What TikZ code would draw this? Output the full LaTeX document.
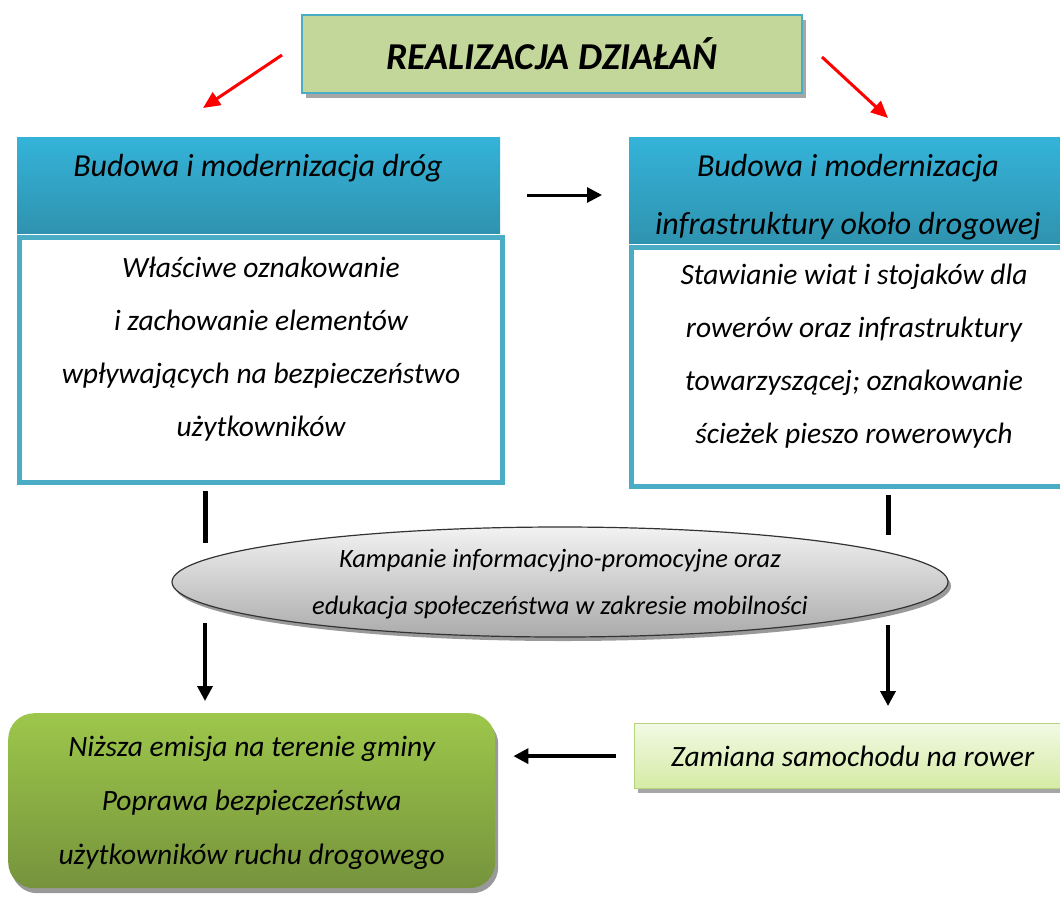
\documentclass[tikz,border=0pt]{standalone}
\usepackage{fontspec}
\setmainfont{Carlito}
\usepackage{tikz}
\usetikzlibrary{shapes.geometric, arrows.meta, positioning, shadows}
\definecolor{frameblue}{HTML}{4BACC6}
\definecolor{titlegreen}{HTML}{C4D79B}
\definecolor{headtop}{HTML}{34B3D9}
\definecolor{headbot}{HTML}{2F93AF}
\definecolor{greentop}{HTML}{9DC74B}
\definecolor{greenbot}{HTML}{76933C}
\definecolor{swaptop}{HTML}{F2F9E4}
\definecolor{swapbot}{HTML}{D5EBA5}
\definecolor{swapframe}{HTML}{B5D47E}
\newcommand{\bodyfont}{\fontsize{29.5}{53}\selectfont\itshape}
\tikzstyle{titlebox} = [rectangle, draw=frameblue, line width=1.5pt, fill=titlegreen,
                        minimum width=500pt, minimum height=78pt,
                        font=\fontsize{38}{42}\selectfont\bfseries\itshape,
                        drop shadow={shadow xshift=4pt, shadow yshift=-5pt, fill=black!35, opacity=1}]
\tikzstyle{headbox} = [rectangle, top color=headtop, bottom color=headbot, anchor=north west]
\tikzstyle{headtext} = [font=\fontsize{32}{58}\selectfont\itshape, align=center]
\tikzstyle{bodybox} = [rectangle, draw=frameblue, line width=5pt, fill=white, anchor=north west,
                       align=center, font=\bodyfont, text depth=26pt]
\tikzstyle{campaign} = [ellipse, draw=black!80, line width=1.2pt, top color=black!5, bottom color=black!33,
                        inner sep=0pt, minimum width=776pt, minimum height=110pt, align=center,
                        font=\fontsize{26.5}{47}\selectfont\itshape, text depth=0pt,
                        drop shadow={shadow xshift=3pt, shadow yshift=-4pt, fill=black!40, opacity=1}]
\tikzstyle{resultbox} = [rectangle, rounded corners=26pt, top color=greentop, bottom color=greenbot,
                         anchor=north west, align=center, font=\fontsize{29.5}{54}\selectfont\itshape,
                         text depth=0pt,
                         drop shadow={shadow xshift=3pt, shadow yshift=-5pt, fill=black!40, opacity=1}]
\tikzstyle{swapbox} = [rectangle, draw=swapframe, line width=1.2pt, top color=swaptop, bottom color=swapbot,
                       anchor=north west, font=\bodyfont,
                       drop shadow={shadow xshift=3pt, shadow yshift=-4pt, fill=black!35, opacity=1}]
\tikzstyle{arrow} = [line width=3.5pt, -{Triangle[length=15pt, width=15pt]}]
\tikzstyle{redarrow} = [red, line width=3pt, -{Triangle[length=17pt, width=15pt]}]
\tikzstyle{bar} = [line width=5pt]

\begin{document}
\begin{tikzpicture}[x=1pt, y=-1pt]
    \clip (0,0) rectangle (1060,898);

    % Top
    \node[titlebox] (title) at (552,54) {REALIZACJA DZIAŁAŃ};

    % Left column
    \node[headbox, minimum width=483pt, minimum height=96pt] (head1) at (17,137) {};
    \node[headtext] (head1txt) at (258,168) {Budowa i modernizacja dróg};
    \node[bodybox, minimum width=483pt, minimum height=245pt] (body1) at (17,235)
        {Właściwe oznakowanie\\i zachowanie elementów\\wpływających na bezpieczeństwo\\użytkowników};

    % Right column
    \node[headbox, minimum width=440pt, minimum height=106pt] (head2) at (629,137) {};
    \node[headtext] (head2txt) at (848,197) {Budowa i modernizacja\\infrastruktury około drogowej};
    \node[bodybox, minimum width=445pt, minimum height=239pt] (body2) at (629,245)
        {Stawianie wiat i stojaków dla\\rowerów oraz infrastruktury\\towarzyszącej; oznakowanie\\ścieżek pieszo rowerowych};

    % Middle
    \node[campaign] (campaign) at (560,582)
        {Kampanie informacyjno-promocyjne oraz\\edukacja społeczeństwa w zakresie mobilności};

    % Bottom
    \node[resultbox, minimum width=487pt, minimum height=175pt] (result) at (8,713)
        {Niższa emisja na terenie gminy\\Poprawa bezpieczeństwa\\użytkowników ruchu drogowego};
    \node[swapbox, minimum width=436pt, minimum height=65pt] (swap) at (634,723) {Zamiana samochodu na rower};

    % Red arrows
    \coordinate (r1) at (282,55);
    \coordinate (r2) at (203,108);
    \coordinate (r3) at (822,57);
    \coordinate (r4) at (888,118);
    \draw[redarrow] (r1) -- (r2);
    \draw[redarrow] (r3) -- (r4);

    % Arrow between headers
    \coordinate (m1) at (527,195);
    \coordinate (m2) at (602,195);
    \draw[arrow, line width=3pt] (m1) -- (m2);

    % Through the campaign
    \coordinate (l1) at (205,543);
    \coordinate (l2) at (205,623);
    \coordinate (k1) at (888,535);
    \coordinate (k2) at (888,625);
    \draw[bar, shorten <=6pt] (body1.south -| l1) -- (l1);
    \draw[arrow, shorten >=12pt] (l2) -- (l2 |- result.north);
    \draw[bar, shorten <=6pt] (body2.south -| k1) -- (k1);
    \draw[arrow, shorten >=17pt] (k2) -- (k2 |- swap.north);

    % Into the result
    \draw[arrow, shorten <=18pt, shorten >=18pt] (swap.west) -- (swap.west -| result.east);
\end{tikzpicture}
\end{document}
